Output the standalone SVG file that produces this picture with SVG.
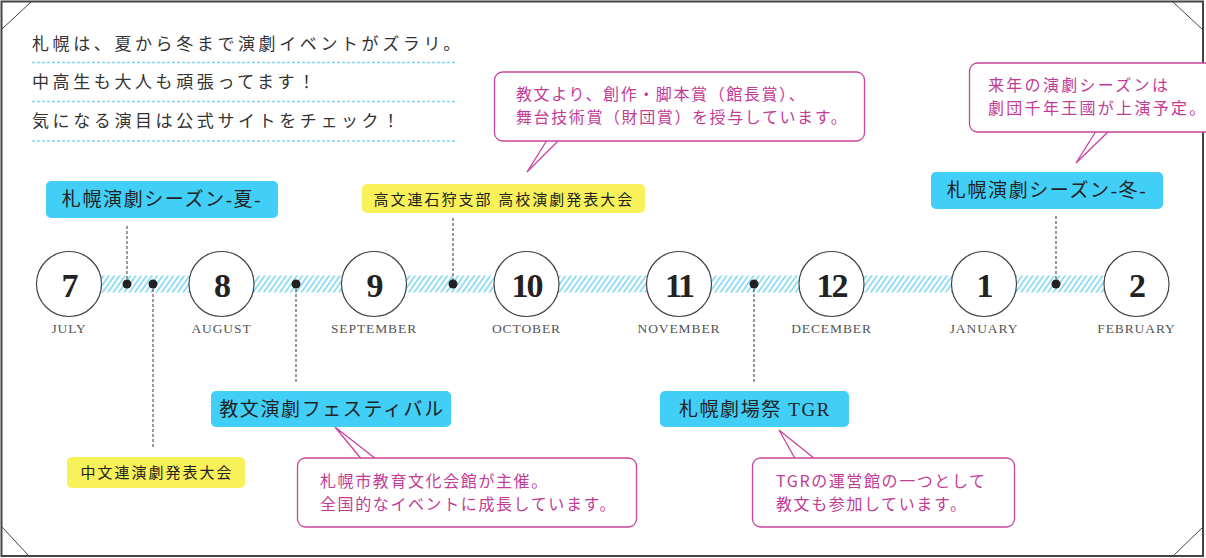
<svg xmlns="http://www.w3.org/2000/svg" width="1206" height="558" viewBox="0 0 1206 558">
<style>
.intro{font-family:"Noto Sans CJK JP","Liberation Serif",serif;font-size:17px;fill:#333;letter-spacing:3.6px}
.dotline{stroke:#7fd6f2;stroke-width:1.6;stroke-dasharray:3 2}
.circle{fill:#fff;stroke:#444;stroke-width:1.2}
.num{font-family:"Liberation Serif",serif;font-weight:bold;font-size:34px;fill:#222;text-anchor:middle;letter-spacing:-2px}
.month{font-family:"Liberation Serif",serif;font-size:13.5px;fill:#555;text-anchor:middle;letter-spacing:0.9px}
.blue{fill:#41cff8}
.yellow{fill:#f8f15a}
.lbl{font-family:"Liberation Serif","Noto Sans CJK JP",serif;fill:#222;text-anchor:middle}
.big{font-size:19px;letter-spacing:1.6px}
.small{font-size:15px;letter-spacing:2px}
.callout{fill:#fff;stroke:#c8449e;stroke-width:1.3}
.ptr{fill:none;stroke:#c8449e;stroke-width:1.3}
.ctext{font-family:"Noto Sans CJK JP",sans-serif;font-size:16px;fill:#c23c96;letter-spacing:1.6px}
.dash{stroke:#555;stroke-width:1.2;stroke-dasharray:3 2;fill:none}
.dot{fill:#222}
</style>
<defs>
<pattern id="hatch" patternUnits="userSpaceOnUse" width="4.4" height="10" patternTransform="rotate(35)">
<line x1="1" y1="0" x2="1" y2="10" stroke="#6dd3f5" stroke-width="1.4"/>
</pattern>
</defs>
<rect x="0" y="0" width="1206" height="558" fill="#fff"/>
<g id="frame" fill="none" stroke="#444">
<rect x="1.5" y="1.5" width="1201.5" height="554.5" stroke-width="2"/>
<line x1="2" y1="29" x2="31" y2="2" stroke-width="1"/>
<line x1="1173" y1="2" x2="1203" y2="30" stroke-width="1"/>
<line x1="1173" y1="556" x2="1203" y2="527" stroke-width="1"/>
<line x1="2" y1="527" x2="29" y2="556" stroke-width="1"/>
</g>
<g id="intro">
<text class="intro" x="32" y="50">札幌は、夏から冬まで演劇イベントがズラリ。</text>
<line class="dotline" x1="32" y1="62.5" x2="457" y2="62.5"/>
<text class="intro" x="32" y="88">中高生も大人も頑張ってます！</text>
<line class="dotline" x1="32" y1="101.5" x2="457" y2="101.5"/>
<text class="intro" x="32" y="127">気になる演目は公式サイトをチェック！</text>
<line class="dotline" x1="32" y1="141" x2="457" y2="141"/>
</g>
<g id="connectors">
<rect x="69" y="275.5" width="1067" height="17" fill="url(#hatch)"/>
<line class="dash" x1="127" y1="226" x2="127" y2="284"/>
<line class="dash" x1="153" y1="284" x2="153" y2="449"/>
<line class="dash" x1="296" y1="284" x2="296" y2="384"/>
<line class="dash" x1="453" y1="218" x2="453" y2="284"/>
<line class="dash" x1="754" y1="284" x2="754" y2="384"/>
<line class="dash" x1="1056" y1="216" x2="1056" y2="284"/>
<circle class="dot" cx="127" cy="284" r="4.5"/>
<circle class="dot" cx="153" cy="284" r="4.5"/>
<circle class="dot" cx="296" cy="284" r="4.5"/>
<circle class="dot" cx="453" cy="284" r="4.5"/>
<circle class="dot" cx="754" cy="284" r="4.5"/>
<circle class="dot" cx="1056" cy="284" r="4.5"/>
<polyline class="ptr" points="549,137 527,172 562,137"/>
<polyline class="ptr" points="1098,128 1076,163 1112,128"/>
<polyline class="ptr" points="363,461 335,427 376,459"/>
<polyline class="ptr" points="797,462 779,430 815,459"/>
</g>
<g id="m7"><circle class="circle" cx="69" cy="284" r="32.5"/><text class="num" x="69" y="297">7</text><text class="month" x="69" y="333">JULY</text></g>
<g id="m8"><circle class="circle" cx="221.5" cy="284" r="32.5"/><text class="num" x="221.5" y="297">8</text><text class="month" x="221.5" y="333">AUGUST</text></g>
<g id="m9"><circle class="circle" cx="374" cy="284" r="32.5"/><text class="num" x="374" y="297">9</text><text class="month" x="374" y="333">SEPTEMBER</text></g>
<g id="m10"><circle class="circle" cx="526.5" cy="284" r="32.5"/><text class="num" x="526.5" y="297">10</text><text class="month" x="526.5" y="333">OCTOBER</text></g>
<g id="m11"><circle class="circle" cx="679" cy="284" r="32.5"/><text class="num" x="679" y="297">11</text><text class="month" x="679" y="333">NOVEMBER</text></g>
<g id="m12"><circle class="circle" cx="831.5" cy="284" r="32.5"/><text class="num" x="831.5" y="297">12</text><text class="month" x="831.5" y="333">DECEMBER</text></g>
<g id="m1"><circle class="circle" cx="984" cy="284" r="32.5"/><text class="num" x="984" y="297">1</text><text class="month" x="984" y="333">JANUARY</text></g>
<g id="m2"><circle class="circle" cx="1136.5" cy="284" r="32.5"/><text class="num" x="1136.5" y="297">2</text><text class="month" x="1136.5" y="333">FEBRUARY</text></g>
<g id="summer"><rect class="blue" x="46" y="181" width="232" height="37" rx="5"/><text class="lbl big" x="162" y="206">札幌演劇シーズン-夏-</text></g>
<g id="winter"><rect class="blue" x="931" y="172" width="232" height="37" rx="5"/><text class="lbl big" x="1047" y="197">札幌演劇シーズン-冬-</text></g>
<g id="koubunren"><rect class="yellow" x="362" y="184" width="283" height="29" rx="5"/><text class="lbl small" x="504" y="205">高文連石狩支部 高校演劇発表大会</text></g>
<g id="chubunren"><rect class="yellow" x="67" y="457" width="178" height="31" rx="5"/><text class="lbl small" x="157" y="478">中文連演劇発表大会</text></g>
<g id="kyobunfes"><rect class="blue" x="211" y="391" width="240" height="36" rx="5"/><text class="lbl big" x="332" y="416">教文演劇フェスティバル</text></g>
<g id="tgr"><rect class="blue" x="660" y="391" width="189" height="36" rx="5"/><text class="lbl big" x="755" y="416">札幌劇場祭 TGR</text></g>
<g id="note-kyobun"><rect class="callout" x="494.5" y="72" width="370" height="69" rx="8"/><text class="ctext" x="516" y="100">教文より、創作・脚本賞（館長賞）、</text><text class="ctext" x="516" y="123">舞台技術賞（財団賞）を授与しています。</text></g>
<g id="note-next"><rect class="callout" x="969.5" y="63" width="250" height="69" rx="8"/><text class="ctext" x="988" y="91" style="letter-spacing:2.3px">来年の演劇シーズンは</text><text class="ctext" x="988" y="114" style="letter-spacing:2.3px">劇団千年王國が上演予定。</text></g>
<g id="note-fes"><rect class="callout" x="297.5" y="458" width="339" height="69" rx="8"/><text class="ctext" x="320" y="487">札幌市教育文化会館が主催。</text><text class="ctext" x="320" y="510">全国的なイベントに成長しています。</text></g>
<g id="note-tgr"><rect class="callout" x="752.5" y="458" width="262" height="69" rx="8"/><text class="ctext" x="776" y="487">TGRの運営館の一つとして</text><text class="ctext" x="776" y="510">教文も参加しています。</text></g>
</svg>
